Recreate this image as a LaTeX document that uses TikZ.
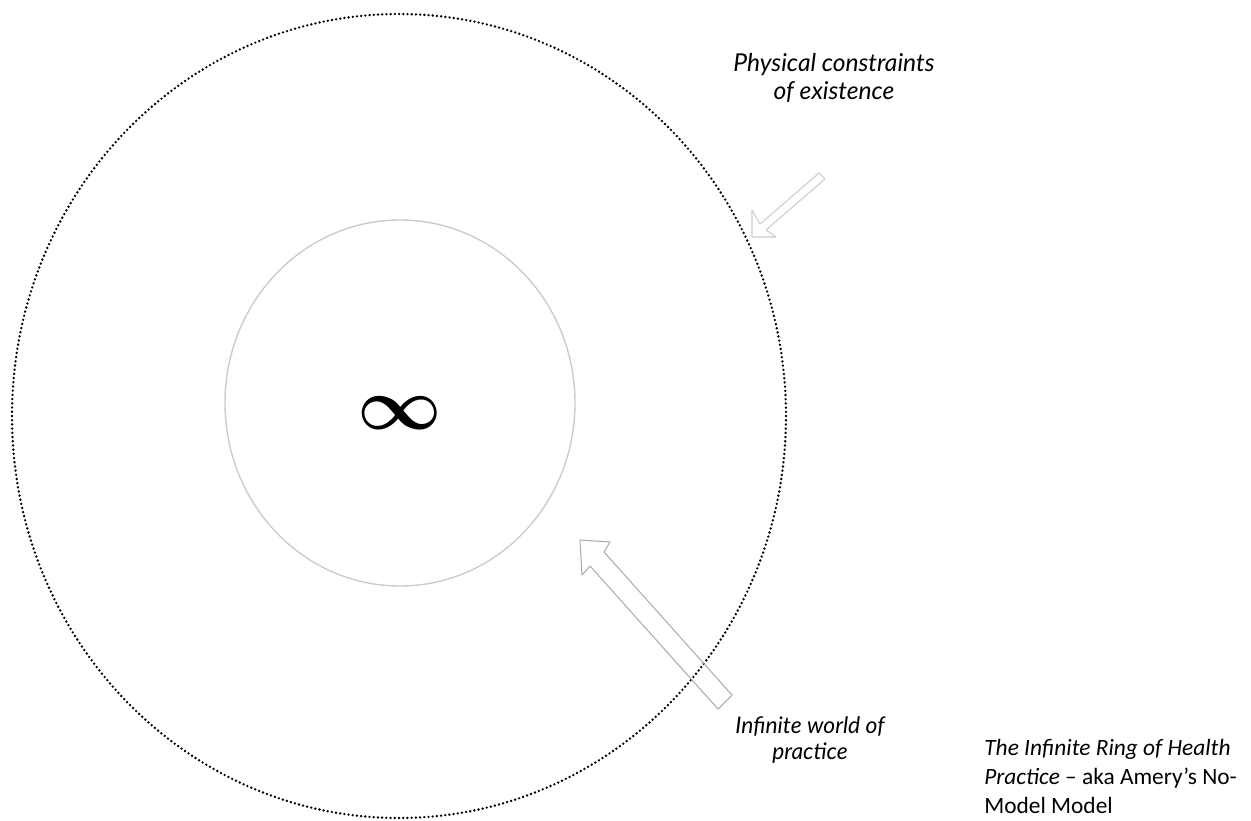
\documentclass[tikz,border=0pt]{standalone}
\usepackage{fontspec}
\usepackage{amsmath}
\usepackage{bm}
\newfontfamily\handfont{Lato}
\newfontfamily\capfont{Carlito}
\usetikzlibrary{calc}

\begin{document}
\begin{tikzpicture}[x=0.02cm,y=-0.02cm,
  hand/.style={font=\handfont\itshape\fontsize{14}{16.2}\selectfont,align=center,inner sep=0pt},
  hollow/.style={draw=gray!65,line width=0.6pt,line join=round}]
\useasboundingbox (0,0) rectangle (1251,821);
\coordinate (c) at (399,416); \coordinate (ci) at (400,403);
% the dotted ring and the inner ring
\draw[line width=1.5pt,dash pattern=on 0pt off 2.4pt,line cap=round] (c) ellipse [x radius=387,y radius=402];
\draw[gray!40,line width=0.8pt] (ci) ellipse [x radius=175,y radius=183];
\node (infty) at (400,413) {\scalebox{1.68}{\fontsize{25}{25}\selectfont$\bm{\infty}$}};
% labels
\node[hand] (phys) at (834,78) {Physical constraints\\of existence};
\node[hand,font=\handfont\itshape\fontsize{13}{15.2}\selectfont] (world) at (810,740) {Infinite world of\\practice};
\node[anchor=north west,align=left,inner sep=0pt,font=\capfont\fontsize{13.3}{16.4}\selectfont] (cap) at (984,739) {\itshape The Infinite Ring of Health\\\itshape Practice\upshape{} – aka Amery’s No-\\Model Model};
% arrows
\draw[hollow] (580,540)--(610,542)--(604,552)--(732,695)--(718,709)--(590,566)--(582,575)--cycle;
\draw[hollow,gray!40] (752,237)--(752,210)--(760,224)--(819,173)--(825,179)--(766,230)--(776,237)--cycle;
\end{tikzpicture}
\end{document}
